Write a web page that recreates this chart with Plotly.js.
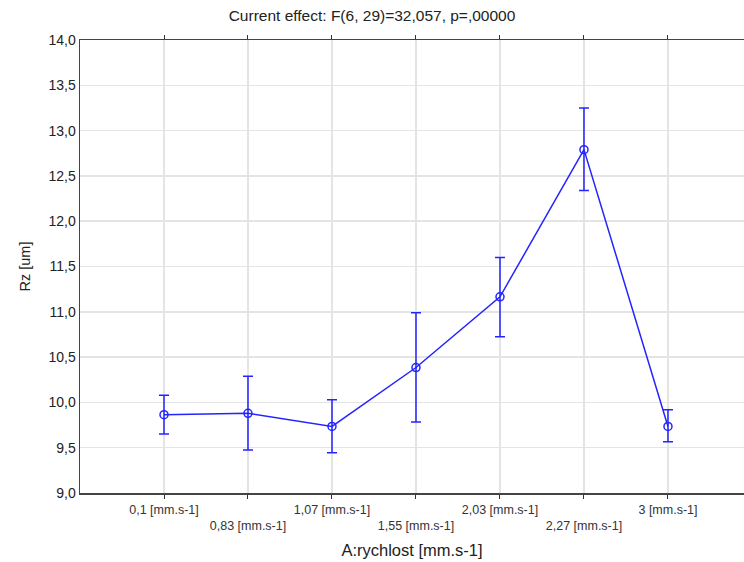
<!DOCTYPE html>
<html>
<head>
<meta charset="utf-8">
<script src="https://cdn.plot.ly/plotly-3.0.1.min.js"></script>
<style>html,body{margin:0;padding:0;background:#fff;}#chart{width:744px;height:562px;}</style>
</head>
<body>
<div id="chart"></div>
<script>
var categories = ["0,1 [mm.s-1]", "0,83 [mm.s-1]", "1,07 [mm.s-1]", "1,55 [mm.s-1]", "2,03 [mm.s-1]", "2,27 [mm.s-1]", "3 [mm.s-1]"];
var means = [9.865, 9.88, 9.735, 10.385, 11.165, 12.79, 9.735];
var upper = [10.08, 10.29, 10.03, 10.99, 11.60, 13.25, 9.92];
var lower = [9.65, 9.475, 9.445, 9.785, 10.725, 12.34, 9.565];
var yTicks = [9.0, 9.5, 10.0, 10.5, 11.0, 11.5, 12.0, 12.5, 13.0, 13.5, 14.0];

var idx = categories.map(function(c, i){ return i; });
var errPlus = means.map(function(m, i){ return upper[i] - m; });
var errMinus = means.map(function(m, i){ return m - lower[i]; });
var tickText = categories.map(function(c, i){ return i % 2 === 0 ? c : "\u00a0<br>" + c; });
var yTickText = yTicks.map(function(v){ return v.toFixed(1).replace(".", ","); });

var blue = "#2424ff";
var trace = {
  x: idx, y: means, type: "scatter", mode: "lines+markers",
  line: {color: blue, width: 1.5},
  marker: {symbol: "circle-open", size: 8, color: blue, line: {width: 1.5, color: blue}},
  error_y: {type: "data", symmetric: false, array: errPlus, arrayminus: errMinus, color: blue, thickness: 1.5, width: 5},
  hoverinfo: "skip"
};

var layout = {
  width: 744, height: 562,
  margin: {l: 80, r: 0, t: 40, b: 69},
  paper_bgcolor: "#fff", plot_bgcolor: "#fff",
  font: {family: "Liberation Sans, Arial, sans-serif", color: "#222"},
  showlegend: false,
  title: {text: "Current effect: F(6, 29)=32,057, p=,00000", font: {size: 15.5, color: "#222"}, x: 0.5, xanchor: "center", y: 0.972, yanchor: "middle"},
  xaxis: {
    range: [-1, 6.905], tickvals: idx, ticktext: tickText,
    tickfont: {size: 12.5, color: "#333"},
    ticks: "outside", ticklen: 4, tickcolor: "#333",
    showgrid: true, gridcolor: "#e4e4e4", gridwidth: 1.5,
    showline: true, linecolor: "#444", linewidth: 1.5, mirror: "ticks",
    zeroline: false,
    title: {text: "A:rychlost [mm.s-1]", font: {size: 16.5, color: "#222"}, standoff: 12}
  },
  yaxis: {
    range: [9, 14], tickvals: yTicks, ticktext: yTickText,
    tickfont: {size: 14, color: "#222"},
    ticks: "", showgrid: true, gridcolor: "#e4e4e4", gridwidth: 1.5,
    showline: true, linecolor: "#444", linewidth: 1.5, mirror: true,
    zeroline: false,
    title: {text: "Rz [um]", font: {size: 14.5, color: "#222"}, standoff: 14}
  }
};

Plotly.newPlot("chart", [trace], layout, {displayModeBar: false, staticPlot: true});
</script>
</body>
</html>
